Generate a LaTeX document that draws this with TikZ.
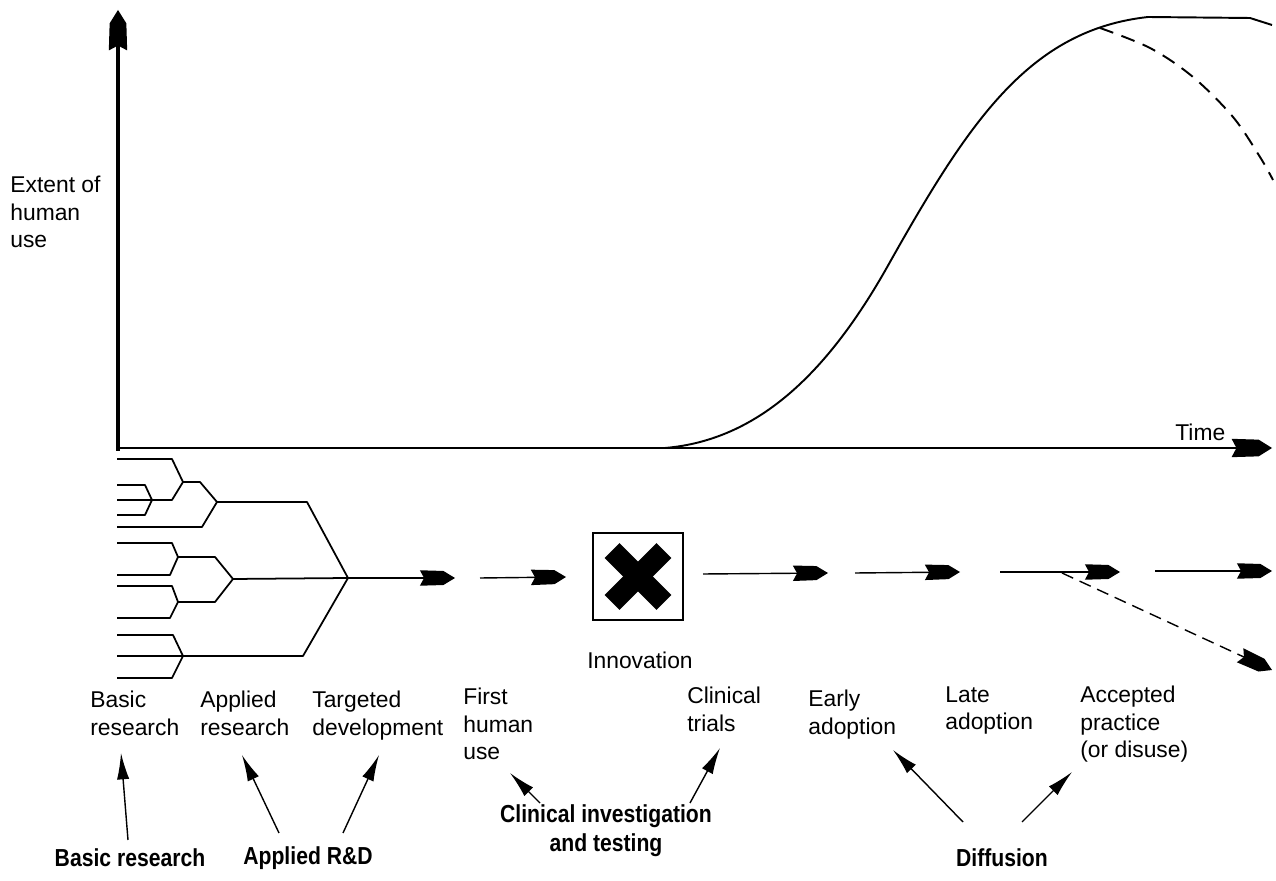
\documentclass[tikz,border=0pt]{standalone}
\usepackage{fontspec}
\setmainfont{Liberation Sans}
\newfontfamily\condfont[FakeStretch=0.86]{Liberation Sans}
\usetikzlibrary{arrows.meta}
\pgfdeclarearrow{
  name = Fish,
  parameters = {\the\pgfarrowlength,\the\pgfarrowwidth},
  setup code = {
    \pgfarrowssettipend{0pt}
    \pgfarrowssetlineend{-0.5\pgfarrowlength}
    \pgfarrowssetvisualbackend{-\pgfarrowlength}
    \pgfarrowssetbackend{-\pgfarrowlength}
    \pgfarrowshullpoint{0pt}{0pt}
    \pgfarrowsupperhullpoint{-\pgfarrowlength}{0.55\pgfarrowwidth}
    \pgfarrowssavethe\pgfarrowlength
    \pgfarrowssavethe\pgfarrowwidth
  },
  drawing code = {
    \pgfpathmoveto{\pgfpoint{0pt}{0pt}}
    \pgfpathlineto{\pgfpoint{-0.33\pgfarrowlength}{0.5\pgfarrowwidth}}
    \pgfpathlineto{\pgfpoint{-\pgfarrowlength}{0.55\pgfarrowwidth}}
    \pgfpathlineto{\pgfpoint{-0.88\pgfarrowlength}{0pt}}
    \pgfpathlineto{\pgfpoint{-\pgfarrowlength}{-0.55\pgfarrowwidth}}
    \pgfpathlineto{\pgfpoint{-0.33\pgfarrowlength}{-0.5\pgfarrowwidth}}
    \pgfpathclose
    \pgfusepathqfill
  },
  defaults = {length = 20pt, width = 8pt}
}
\begin{document}
\begin{tikzpicture}[x=0.02cm,y=-0.02cm,
  lbl/.style={anchor=north west, align=left, inner sep=0pt, font=\fontsize{13pt}{15.6pt}\selectfont},
  grp/.style={align=center, inner sep=0pt, font=\condfont\bfseries\fontsize{14pt}{16.5pt}\selectfont},
  tree/.style={line width=1pt, line join=round},
  flow/.style={line width=0.8pt, -{Fish[length=20pt,width=8pt]}},
  ptr/.style={line width=0.8pt, -{Latex[length=15pt,width=7pt]}},
  axisline/.style={-{Fish[length=23pt,width=9.5pt]}},
  curve/.style={line width=1.1pt}]
\useasboundingbox (0,0) rectangle (1276,881);

% axes
\coordinate (O) at (118,449);
\coordinate (ytop) at (118,10);
\coordinate (xend) at (1272,448);
\draw[axisline, line width=2.3pt] (118,451) -- (ytop);
\draw[axisline, line width=1.6pt] (117,448) -- (xend);
\node[lbl] (extent) at (10,176) {Extent of\\human\\use};
\node[lbl] (time) at (1175,424) {Time};

% growth curve
\draw[curve] (655,448) -- (665,448) .. controls (760,440) and (830,370) .. (890,262)
  .. controls (970,120) and (1030,30) .. (1148,17) -- (1250,18) -- (1272,25);
\draw[curve, dash pattern=on 8pt off 5pt] plot[smooth, tension=0.55] coordinates {(1100,28) (1150,48) (1193,77) (1233,117) (1260,157) (1273,180)};

% research tree
\coordinate (hub) at (348,578);
\draw[tree] (117,459) -- (172,459) -- (183,482) -- (200,482) -- (217,502) -- (307,502) -- (hub);
\draw[tree] (117,485) -- (145,485) -- (152,500);
\draw[tree] (117,500) -- (172,500) -- (183,482);
\draw[tree] (117,515) -- (145,515) -- (152,500);
\draw[tree] (117,527) -- (202,527) -- (217,502);
\draw[tree] (117,543) -- (172,543) -- (178,557) -- (215,557) -- (233,579);
\draw[tree] (117,575) -- (170,575) -- (178,557);
\draw[tree] (117,586) -- (172,586) -- (178,602) -- (215,602) -- (233,579);
\draw[tree] (117,618) -- (170,618) -- (178,602);
\draw[tree] (233,579) -- (hub);
\draw[tree] (117,635) -- (173,635) -- (183,656);
\draw[tree] (117,656) -- (303,656) -- (hub);
\draw[tree] (117,678) -- (172,678) -- (183,656);

% flow arrows
\coordinate (a1) at (455,578);
\coordinate (b0) at (480,578); \coordinate (b1) at (566,577);
\node[draw, line width=1pt, minimum width=1.8cm, minimum height=1.74cm, inner sep=0pt] (innov) at (638,576.5) {};
\draw[line width=12pt] ([shift={(-0.52cm,0.52cm)}]innov.center) -- ([shift={(0.52cm,-0.52cm)}]innov.center);
\draw[line width=12pt] ([shift={(-0.52cm,-0.52cm)}]innov.center) -- ([shift={(0.52cm,0.52cm)}]innov.center);
\node[lbl, anchor=center] (innovlbl) at (640,660) {Innovation};
\coordinate (c0) at (703,574); \coordinate (c1) at (828,573);
\coordinate (d0) at (855,573); \coordinate (d1) at (960,572);
\coordinate (e0) at (1000,572); \coordinate (e1) at (1120,572);
\coordinate (f0) at (1155,571); \coordinate (f1) at (1272,571);
\coordinate (g0) at (1062,573); \coordinate (g1) at (1272,670);
\draw[flow] (hub) -- (a1);
\draw[flow] (b0) -- (b1);
\draw[flow] (c0) -- (c1);
\draw[flow] (d0) -- (d1);
\draw[flow] (e0) -- (e1);
\draw[flow] (f0) -- (f1);
\draw[flow, dash pattern=on 7pt off 4pt] (g0) -- (g1);

% stage labels
\node[lbl] (basic) at (90,691) {Basic\\research};
\node[lbl] (applied) at (200,691) {Applied\\research};
\node[lbl] (targeted) at (312,691) {Targeted\\development};
\node[lbl] (first) at (463,688) {First\\human\\use};
\node[lbl] (trials) at (687,687) {Clinical\\trials};
\node[lbl] (early) at (808,690) {Early\\adoption};
\node[lbl] (late) at (945,686) {Late\\adoption};
\node[lbl] (accepted) at (1080,686) {Accepted\\practice\\(or disuse)};

% group labels
\node[grp] (gbasic) at (130,858) {Basic research};
\node[grp] (gapplied) at (308,858) {Applied R\&D};
\node[grp] (gclin) at (606,831) {Clinical investigation\\and testing};
\node[grp] (gdiff) at (1002,858) {Diffusion};

% pointers
\coordinate (p1t) at (128,840); \coordinate (p1h) at (121,753);
\coordinate (p2t) at (279,833); \coordinate (p2h) at (242,755);
\coordinate (p3t) at (343,833); \coordinate (p3h) at (379,755);
\coordinate (p4t) at (540,803); \coordinate (p4h) at (510,773);
\coordinate (p5t) at (690,803); \coordinate (p5h) at (720,748);
\coordinate (p6t) at (963,822); \coordinate (p6h) at (893,750);
\coordinate (p7t) at (1022,822); \coordinate (p7h) at (1072,772);
\draw[ptr] (p1t) -- (p1h);
\draw[ptr] (p2t) -- (p2h);
\draw[ptr] (p3t) -- (p3h);
\draw[ptr] (p4t) -- (p4h);
\draw[ptr] (p5t) -- (p5h);
\draw[ptr] (p6t) -- (p6h);
\draw[ptr] (p7t) -- (p7h);
\end{tikzpicture}
\end{document}
